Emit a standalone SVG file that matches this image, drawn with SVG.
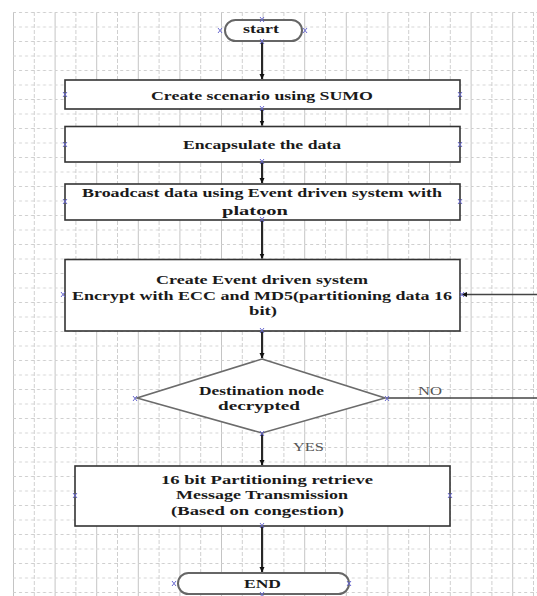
<svg xmlns="http://www.w3.org/2000/svg" width="537" height="596" viewBox="0 0 537 596">
<defs>
<pattern id="grid" x="13" y="12" width="41.6" height="29" patternUnits="userSpaceOnUse">
<line x1="0.5" y1="0" x2="0.5" y2="29" stroke="#c4c4c4" stroke-width="1"/>
<line x1="21.3" y1="0" x2="21.3" y2="29" stroke="#cfcfcf" stroke-width="1" stroke-dasharray="4,2"/>
<line x1="0" y1="0.5" x2="41.6" y2="0.5" stroke="#cfcfcf" stroke-width="1" stroke-dasharray="3,3"/>
<line x1="0" y1="15" x2="41.6" y2="15" stroke="#d6d6d6" stroke-width="1" stroke-dasharray="3,3"/>
</pattern>
<marker id="arr" markerWidth="6" markerHeight="6" refX="5" refY="3" orient="auto" markerUnits="userSpaceOnUse">
<path d="M0,0.5 L5.5,3 L0,5.5 Z" fill="#111"/>
</marker>
</defs>
<style>
.box{fill:#fff;stroke:#333;stroke-width:1.6}
.dia{fill:#fff;stroke:#6b6b6b;stroke-width:1.6}
.term{fill:#fff;stroke:#666;stroke-width:2}
.t{font-family:"Liberation Serif","Times New Roman",serif;font-weight:bold;font-size:13.5px;fill:#1a1a1a;text-anchor:middle}
.lbl{font-family:"Liberation Serif","Times New Roman",serif;font-size:13px;fill:#555;text-anchor:middle}
.cp{stroke:#6a6ad0;stroke-width:1;fill:none}
.con{stroke:#111;stroke-width:1.8;fill:none}
.con2{stroke:#444;stroke-width:1.4;fill:none}
</style>
<rect x="0" y="0" width="537" height="596" fill="#fff"/>
<rect x="13" y="12" width="524" height="584" fill="url(#grid)"/>

<g id="connectors">
<line class="con" x1="262" y1="41" x2="262" y2="79" marker-end="url(#arr)"/>
<line class="con" x1="262" y1="109" x2="262" y2="125.5" marker-end="url(#arr)"/>
<line class="con" x1="262" y1="162" x2="262" y2="183" marker-end="url(#arr)"/>
<line class="con" x1="262" y1="220" x2="262" y2="258.5" marker-end="url(#arr)"/>
<line class="con" x1="262" y1="331" x2="262" y2="358" marker-end="url(#arr)"/>
<line class="con" x1="262" y1="433" x2="262" y2="465" marker-end="url(#arr)"/>
<line class="con" x1="262" y1="526" x2="262" y2="572" marker-end="url(#arr)"/>
<line class="con2" x1="537" y1="398" x2="386" y2="398"/>
<line class="con2" x1="537" y1="294.5" x2="462" y2="294.5" marker-end="url(#arr)"/>
<text class="lbl" x="430" y="395" textLength="24" lengthAdjust="spacingAndGlyphs">NO</text>
<text class="lbl" x="308.5" y="451" textLength="31" lengthAdjust="spacingAndGlyphs">YES</text>
</g>

<g id="start">
<rect class="term" x="225" y="20" width="77" height="21" rx="10.5"/>
<text class="t" x="261" y="33" textLength="36" lengthAdjust="spacingAndGlyphs">start</text>
<path class="cp" d="M218,28 l4,5 M222,28 l-4,5 M303,28 l4,5 M307,28 l-4,5 M260,17 l4,5 M264,17 l-4,5 M260,39 l4,5 M264,39 l-4,5"/>
</g>

<g id="create-scenario">
<rect class="box" x="65" y="80" width="395" height="29"/>
<text class="t" x="262" y="100" textLength="222" lengthAdjust="spacingAndGlyphs">Create scenario using SUMO</text>
<path class="cp" d="M63,92 l4,5 M67,92 l-4,5 M458,92 l4,5 M462,92 l-4,5 M260,106 l4,5 M264,106 l-4,5"/>
</g>

<g id="encapsulate">
<rect class="box" x="65" y="126.5" width="395" height="35.5"/>
<text class="t" x="262" y="148.5" textLength="158" lengthAdjust="spacingAndGlyphs">Encapsulate the data</text>
<path class="cp" d="M63,142 l4,5 M67,142 l-4,5 M458,142 l4,5 M462,142 l-4,5 M260,159 l4,5 M264,159 l-4,5"/>
</g>

<g id="broadcast">
<rect class="box" x="65" y="184" width="395" height="36"/>
<text class="t" x="262" y="197" textLength="360" lengthAdjust="spacingAndGlyphs">Broadcast data using Event driven system with</text>
<text class="t" x="255" y="214.5" textLength="66" lengthAdjust="spacingAndGlyphs">platoon</text>
<path class="cp" d="M63,199 l4,5 M67,199 l-4,5 M458,199 l4,5 M462,199 l-4,5 M260,217 l4,5 M264,217 l-4,5"/>
</g>

<g id="encrypt">
<rect class="box" x="65" y="259.5" width="395" height="71.5"/>
<text class="t" x="262" y="284" textLength="212" lengthAdjust="spacingAndGlyphs">Create Event driven system</text>
<text class="t" x="262" y="300" textLength="380" lengthAdjust="spacingAndGlyphs">Encrypt with ECC and MD5(partitioning data 16</text>
<text class="t" x="263" y="315" textLength="28" lengthAdjust="spacingAndGlyphs">bit)</text>
<path class="cp" d="M61,292 l4,5 M65,292 l-4,5 M460,292 l4,5 M464,292 l-4,5 M260,328 l4,5 M264,328 l-4,5"/>
</g>

<g id="decision">
<polygon class="dia" points="262,359 385,398 262,433 137,398"/>
<text class="t" x="261.5" y="395" textLength="125" lengthAdjust="spacingAndGlyphs">Destination node</text>
<text class="t" x="259" y="409.5" textLength="82" lengthAdjust="spacingAndGlyphs">decrypted</text>
<path class="cp" d="M133,396 l4,5 M137,396 l-4,5 M385,396 l4,5 M389,396 l-4,5 M260,431 l4,5 M264,431 l-4,5"/>
</g>

<g id="partition">
<rect class="box" x="75" y="466" width="375" height="60"/>
<text class="t" x="267" y="484" textLength="212" lengthAdjust="spacingAndGlyphs">16 bit Partitioning retrieve</text>
<text class="t" x="262" y="499" textLength="172" lengthAdjust="spacingAndGlyphs">Message Transmission</text>
<text class="t" x="257.5" y="515" textLength="173" lengthAdjust="spacingAndGlyphs">(Based on congestion)</text>
<path class="cp" d="M73,493 l4,5 M77,493 l-4,5 M448,493 l4,5 M452,493 l-4,5 M260,523 l4,5 M264,523 l-4,5"/>
</g>

<g id="end">
<rect class="term" x="178" y="573" width="171" height="21" rx="10.5"/>
<text class="t" x="262.5" y="588" textLength="37" lengthAdjust="spacingAndGlyphs">END</text>
<path class="cp" d="M172,581 l4,5 M176,581 l-4,5 M347,581 l4,5 M351,581 l-4,5 M260,592 l4,5 M264,592 l-4,5"/>
</g>
</svg>
